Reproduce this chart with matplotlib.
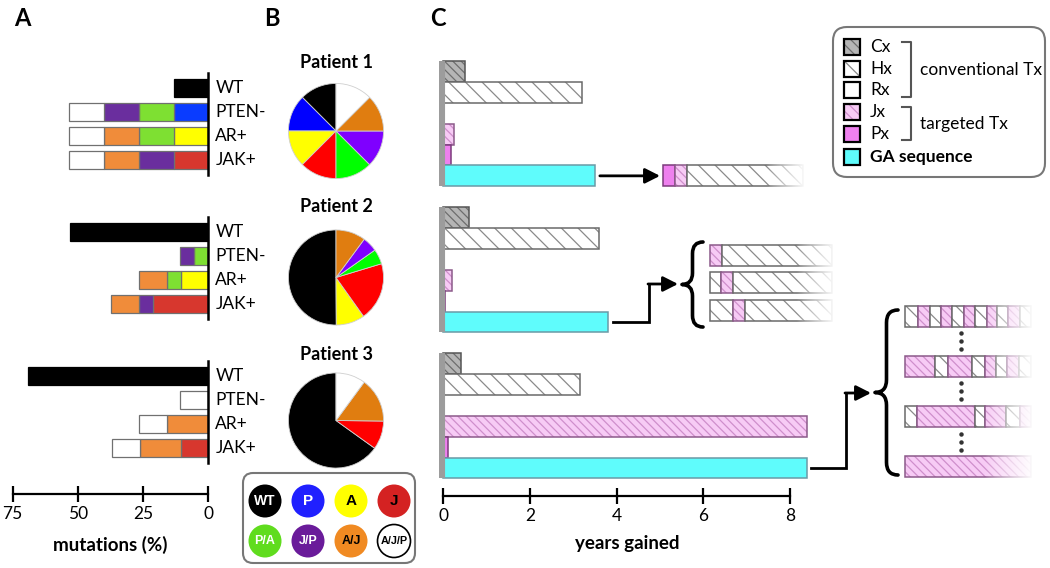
import numpy as np
import matplotlib
matplotlib.use('Agg')
import matplotlib.pyplot as plt
from matplotlib.patches import Rectangle, FancyBboxPatch, Circle, PathPatch
from matplotlib.path import Path

plt.rcParams['font.family'] = ['Lato', 'DejaVu Sans']
plt.rcParams['hatch.linewidth'] = 0.9

# ---------------- data ----------------
patients = ['Patient 1', 'Patient 2', 'Patient 3']
mut_rows = ['WT', 'PTEN-', 'AR+', 'JAK+']
clones = ['WT', 'P', 'A', 'J', 'P/A', 'J/P', 'A/J', 'A/J/P']
p1_clones = [13.3, 13.3, 13.3, 13.3, 13.3, 13.3, 13.3, 13.3]
p2_clones = [53.0, 0.0, 10.3, 21.0, 5.4, 5.4, 10.7, 0.0]
p3_clones = [69.0, 0.0, 0.0, 10.3, 0.0, 0.0, 16.0, 10.7]
row_members = {'WT': ['WT'],
               'PTEN-': ['P', 'P/A', 'J/P', 'A/J/P'],
               'AR+': ['A', 'P/A', 'A/J', 'A/J/P'],
               'JAK+': ['J', 'J/P', 'A/J', 'A/J/P']}
mut_ticks = [75, 50, 25, 0]

treatments = ['Cx', 'Hx', 'Rx', 'Jx', 'Px', 'GA sequence']
p1_years = [0.5, 3.2, 0.0, 0.25, 0.18, 3.5]
p2_years = [0.6, 3.6, 0.0, 0.2, 0.05, 3.8]
p3_years = [0.4, 3.15, 0.0, 8.4, 0.1, 8.4]
year_ticks = [0, 2, 4, 6, 8]

# schematic treatment sequences: (treatment, cycle length)
p1_seqs = [[('Px', 1), ('Jx', 1), ('Hx', 9.7)]]
p2_seqs = [[('Jx', 1), ('Hx', 9.2)],
           [('Hx', 0.9), ('Jx', 1), ('Hx', 8.3)],
           [('Hx', 1.9), ('Jx', 1), ('Hx', 7.3)]]
p3_seqs = [[('Hx', 1.1), ('Jx', 1), ('Hx', 0.9), ('Jx', 0.9), ('Hx', 1), ('Jx', 0.9),
            ('Hx', 1), ('Jx', 0.9), ('Hx', 0.9), ('Jx', 1), ('Hx', 0.9)],
           [('Jx', 2.5), ('Hx', 1.1), ('Jx', 2), ('Hx', 1.1), ('Jx', 0.9), ('Hx', 0.9),
            ('Jx', 1), ('Hx', 1)],
           [('Hx', 1), ('Jx', 4.8), ('Hx', 0.9), ('Jx', 1.7), ('Hx', 1.2), ('Jx', 0.9)],
           [('Jx', 10.5)]]

legend_circles = ['WT', 'P', 'A', 'J', 'P/A', 'J/P', 'A/J', 'A/J/P']

# ---------------- styles ----------------
bar_colors = {'WT': '#000000', 'P': '#0a3cff', 'A': '#ffff00', 'J': '#d7372e',
              'P/A': '#7ee032', 'J/P': '#6a2e9e', 'A/J': '#f08c3a', 'A/J/P': '#ffffff'}
pie_colors = {'WT': '#000000', 'P': '#0000ff', 'A': '#ffff00', 'J': '#ff0000',
              'P/A': '#00ff00', 'J/P': '#7f00ff', 'A/J': '#e07d10', 'A/J/P': '#ffffff'}
circ_colors = {'WT': '#000000', 'P': '#2020ff', 'A': '#ffff00', 'J': '#d42222',
               'P/A': '#60dc1e', 'J/P': '#6a1b9a', 'A/J': '#f08a22', 'A/J/P': '#ffffff'}
circ_text = {'WT': 'white', 'P': 'white', 'A': 'black', 'J': 'black',
             'P/A': 'white', 'J/P': 'white', 'A/J': 'black', 'A/J/P': 'black'}
tstyle = {
    'Cx': dict(face='#b5b5b5', hatch='\\\\\\\\', hcolor='#6e6e6e', edge='#555555'),
    'Hx': dict(face='#ffffff', hatch='\\\\', hcolor='#8a8a8a', edge='#6a6a6a'),
    'Rx': dict(face='#ffffff', hatch='', hcolor='#000000', edge='#555555'),
    'Jx': dict(face='#f7cbf5', hatch='\\\\\\\\', hcolor='#cf8fcc', edge='#8c5a8a'),
    'Px': dict(face='#ee80ee', hatch='', hcolor='#000000', edge='#7c3a7c'),
    'GA sequence': dict(face='#5ffcfc', hatch='', hcolor='#000000', edge='#6a9aa6'),
}

W, H = 1050, 568
fig = plt.figure(figsize=(W / 100, H / 100), dpi=100)


def px_axes(x0, y0, x1, y1, **kw):
    return fig.add_axes([x0 / W, 1 - y1 / H, (x1 - x0) / W, (y1 - y0) / H], **kw)


def style_axis(ax, ticks):
    for s in ['top', 'right', 'left']:
        ax.spines[s].set_visible(False)
    ax.spines['bottom'].set_linewidth(1.6)
    ax.set_yticks([])
    ax.set_xticks(ticks)
    ax.tick_params(axis='x', direction='inout', length=11, width=1.6, labelsize=12.5, pad=3)
    ax.patch.set_visible(False)


# ---------------- Panel A ----------------
a_zero, a_ppu = 208.3, 2.61
axA = px_axes(a_zero - 75 * a_ppu, 60, a_zero, 494)
axA.set_xlim(75, 0)
rowA0, rowA_h = 88.0, 24.0
axA.set_ylim((494 - rowA0) / rowA_h, (60 - rowA0) / rowA_h)
clone_data = [p1_clones, p2_clones, p3_clones]
for g, cl in enumerate(clone_data):
    frac = dict(zip(clones, cl))
    for r, row in enumerate(mut_rows):
        y = 6 * g + r
        left = 0.0
        for c in row_members[row]:
            v = frac[c]
            if v <= 0:
                continue
            ec = '#000000' if c == 'WT' else '#707070'
            axA.barh(y, v, 0.75, left=left, color=bar_colors[c], edgecolor=ec, lw=0.9, zorder=2)
            left += v
        axA.annotate(row, (0, y), xytext=(5, 0), textcoords='offset points',
                     ha='left', va='center', fontsize=12.5, annotation_clip=False)
    axA.plot([0, 0], [6 * g - 0.62, 6 * g + 3.62], color='k', lw=1.8, clip_on=False, zorder=3)
style_axis(axA, mut_ticks)
axA.set_xlabel('mutations (%)', fontsize=13.5, fontweight='bold', labelpad=10)

# ---------------- Panel B (pies) ----------------
pie_cx = 336
pie_cy = [131, 277.5, 420.5]
title_y = [62, 206, 355]
pie_r = 48.5
for g, cl in enumerate(clone_data):
    cy = pie_cy[g]
    axp = px_axes(pie_cx - pie_r, cy - pie_r, pie_cx + pie_r, cy + pie_r)
    vals = [v for v in cl if v > 0]
    cols = [pie_colors[c] for c, v in zip(clones, cl) if v > 0]
    axp.pie(vals, colors=cols, startangle=90, counterclock=True, radius=1.0,
            wedgeprops=dict(edgecolor='#cfcfcf', linewidth=0.6))
    axp.set_xlim(-1.02, 1.02)
    axp.set_ylim(-1.02, 1.02)

# ---------------- Panel C ----------------
zero_px, ppy = 443.3, 43.3
axC = px_axes(zero_px - 0.1 * ppy, 50, zero_px + 8.6 * ppy, 496)
axC.set_xlim(-0.1, 8.6)
rowC0, rowC_h = 71.5, 20.87
axC.set_ylim((496 - rowC0) / rowC_h, (50 - rowC0) / rowC_h)


def tbar(ax, y, w, h, kind, left=0.0):
    s = tstyle[kind]
    ax.barh(y, w, h, left=left, color=s['face'], edgecolor='none', lw=0, zorder=2)
    if s['hatch']:
        ax.barh(y, w, h, left=left, color='none', edgecolor=s['hcolor'], hatch=s['hatch'], lw=0, zorder=2)
    ax.barh(y, w, h, left=left, color='none', edgecolor=s['edge'], lw=1.1, zorder=2)


years_data = [p1_years, p2_years, p3_years]
for g, yrs in enumerate(years_data):
    for r, (t, v) in enumerate(zip(treatments, yrs)):
        if v > 0:
            tbar(axC, 7 * g + r, v, 1.0, t)
    axC.plot([-0.03, -0.03], [7 * g - 0.5, 7 * g + 5.5], color='#9c9c9c', lw=4.4,
             solid_capstyle='butt', zorder=3)
style_axis(axC, year_ticks)
axC.spines['bottom'].set_bounds(0, 8)
axC.set_xlabel('years gained', fontsize=13.5, fontweight='bold', labelpad=8)

# ---------------- overlay (annotations, schematic) ----------------
ov = fig.add_axes([0, 0, 1, 1], zorder=10)
ov.set_xlim(0, W)
ov.set_ylim(H, 0)
ov.axis('off')
ov.patch.set_visible(False)

for lab, x in zip(['A', 'B', 'C'], [22, 272, 438]):
    ov.text(x, 18, lab, fontsize=17, fontweight='bold', ha='center', va='center')

for g, name in enumerate(patients):
    ov.text(pie_cx, title_y[g], name, fontsize=13, fontweight='bold', ha='center', va='center')

# Panel B legend circles
ov.add_patch(FancyBboxPatch((243, 473), 172, 90, boxstyle='round,pad=0,rounding_size=10',
                            facecolor='white', edgecolor='#777777', lw=1.5))
circ_fs = {1: 11, 2: 10, 3: 9, 5: 7.8}
for i, c in enumerate(legend_circles):
    cx = 265 + 43 * (i % 4)
    cy = 501 if i < 4 else 541
    ov.add_patch(Circle((cx, cy), 16.5, facecolor=circ_colors[c],
                        edgecolor='#000000' if c == 'A/J/P' else 'none', lw=1.2))
    ov.text(cx, cy, c, ha='center', va='center', fontsize=circ_fs[len(c)],
            fontweight='bold', color=circ_text[c], family=['Liberation Sans', 'DejaVu Sans'])


def to_ov(ax, x, y):
    d = ax.transData.transform((x, y))
    return ov.transData.inverted().transform(d)


def seg_rect(x, y, w, h, kind):
    s = tstyle[kind]
    ov.add_patch(Rectangle((x, y), w, h, facecolor=s['face'], edgecolor='none', lw=0, zorder=2))
    if s['hatch']:
        ov.add_patch(Rectangle((x, y), w, h, facecolor='none', edgecolor=s['hcolor'],
                               hatch=s['hatch'], lw=0, zorder=2))
    ov.add_patch(Rectangle((x, y), w, h, facecolor='none', edgecolor=s['edge'], lw=1.1, zorder=2))


unit = 12.0


def draw_seq(seq, x0, yc, h=21):
    x = x0
    for kind, n in seq:
        seg_rect(x, yc - h / 2, n * unit, h, kind)
        x += n * unit
    return x


def fade(x0, x1, y0, y1):
    grad = np.ones((2, 256, 4))
    grad[..., 3] = np.linspace(0, 1, 256)[None, :] ** 0.8
    ov.imshow(grad, extent=(x0, x1, y1, y0), aspect='auto', zorder=5, interpolation='bilinear')


def brace(xl, xr, y0, y1):
    xm = (xl + xr) / 2
    ym = (y0 + y1) / 2
    d = (xr - xl) * 0.55
    verts = [(xr, y0), (xm, y0), (xm, y0 + d), (xm, ym - d), (xm, ym), (xl, ym),
             (xm, ym), (xm, ym + d), (xm, y1 - d), (xm, y1), (xr, y1)]
    codes = [Path.MOVETO, Path.CURVE3, Path.CURVE3, Path.LINETO, Path.CURVE3, Path.CURVE3,
             Path.CURVE3, Path.CURVE3, Path.LINETO, Path.CURVE3, Path.CURVE3]
    ov.add_patch(PathPatch(Path(verts, codes), facecolor='none', edgecolor='k', lw=2.6,
                           capstyle='round', joinstyle='round'))


aprops = dict(arrowstyle='-|>,head_length=0.75,head_width=0.38', lw=2, color='k',
              shrinkA=0, shrinkB=0, mutation_scale=12)

# Patient 1 sequence
sx, sy = to_ov(axC, p1_years[5], 5)
ov.annotate('', xy=(660, sy), xytext=(sx + 5, sy), arrowprops=aprops)
for seq in p1_seqs:
    end = draw_seq(seq, 663, sy)
fade(767, 806, sy - 12, sy + 12)

# Patient 2 sequences
sx, sy = to_ov(axC, p2_years[5], 12)
ov.plot([sx + 5, 649, 649], [sy, sy, 284], color='k', lw=2, solid_joinstyle='miter')
ov.annotate('', xy=(678, 284), xytext=(648, 284), arrowprops=aprops)
brace(682, 703, 242, 327)
for i, seq in enumerate(p2_seqs):
    draw_seq(seq, 710, 255 + 27.5 * i)
fade(797, 836, 242, 324)

# Patient 3 sequences
sx, sy = to_ov(axC, p3_years[5], 19)
ov.plot([sx + 4, 846, 846], [sy, sy, 393], color='k', lw=2, solid_joinstyle='miter')
ov.annotate('', xy=(871, 393), xytext=(845, 393), arrowprops=aprops)
brace(875, 898, 310, 475)
row_y = [316, 366, 416.5, 466.5]
for i, seq in enumerate(p3_seqs):
    draw_seq(seq, 905, row_y[i])
fade(985, 1034, 303, 480)
for i in range(3):
    ys = np.array([-8, 0, 8]) + (row_y[i] + row_y[i + 1]) / 2
    ov.plot([961] * 3, ys, 'o', ms=2.2, color='#333333', zorder=6)

# Panel C legend
ov.add_patch(FancyBboxPatch((833, 27), 212, 150, boxstyle='round,pad=0,rounding_size=14',
                            facecolor='white', edgecolor='#777777', lw=1.5, zorder=1))
leg_y = [47, 69, 90, 112, 134, 157]
for t, yy in zip(treatments, leg_y):
    s = tstyle[t]
    ov.add_patch(Rectangle((844, yy - 8), 16, 16, facecolor=s['face'], edgecolor='none', zorder=2))
    if s['hatch']:
        ov.add_patch(Rectangle((844, yy - 8), 16, 16, facecolor='none', edgecolor=s['hcolor'],
                               hatch=s['hatch'][:2] if t == 'Hx' else '\\\\\\', lw=0, zorder=2))
    ov.add_patch(Rectangle((844, yy - 8), 16, 16, facecolor='none', edgecolor='k', lw=1.6, zorder=3))
    ov.text(870, yy, t, fontsize=12.5, va='center', ha='left',
            fontweight='bold' if t == 'GA sequence' else 'normal')
ov.plot([902, 911, 911, 902], [42, 42, 97, 97], color='#555555', lw=1.5)
ov.text(920, 70, 'conventional Tx', fontsize=12.5, va='center', ha='left')
ov.plot([902, 911, 911, 902], [107, 107, 140, 140], color='#555555', lw=1.5)
ov.text(920, 124, 'targeted Tx', fontsize=12.5, va='center', ha='left')

ov.set_xlim(0, W)
ov.set_ylim(H, 0)

fig.savefig('out.png', dpi=100)
